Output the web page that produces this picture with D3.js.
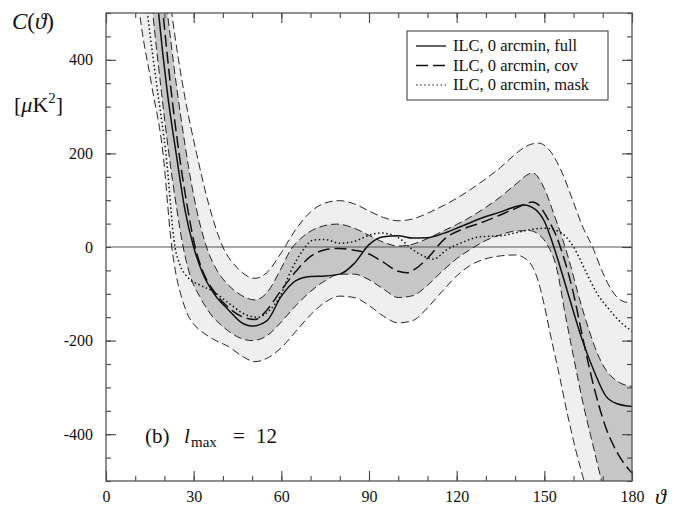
<!DOCTYPE html>
<html>
<head>
<meta charset="utf-8">
<script src="https://cdn.jsdelivr.net/npm/d3@7"></script>
<style>
  body { margin: 0; background: #fff; }
  text { font-family: "Liberation Serif", "DejaVu Serif", serif; fill: #111; }
</style>
</head>
<body>
<div class="vis-holder"></div>
<script>
// angle ticks and labels
var xMinorTicks = d3.range(0, 181, 10);
var xMajorTicks = [0, 30, 60, 90, 120, 150, 180];
var yMinorTicks = d3.range(-500, 501, 50);
var yMajorTicks = [-400, -200, 0, 200, 400];

// [theta, C(theta)], values in muK^2
var full = [[10,1150],[15,720],[18,500],[21,330],[24,200],[27,80],[30,0],[33,-55],[37,-100],[42,-135],[46,-160],[50,-169],[55,-158],[60,-105],[65,-72],[70,-63],[75,-62],[80,-58],[85,-35],[90,5],[95,22],[100,24],[105,19],[110,20],[115,28],[120,40],[125,53],[130,65],[135,75],[140,86],[143,90],[147,80],[150,55],[153,5],[156,-55],[159,-118],[163,-199],[167,-265],[171,-318],[175,-335],[180,-341]];

var cov = [[10,1250],[15,800],[17,660],[19.5,500],[22,350],[25,200],[28,80],[30.5,0],[33,-50],[37,-95],[42,-130],[47,-150],[51,-155],[55,-135],[60,-92],[65,-52],[70,-20],[75,-6],[80,-3],[85,-7],[90,-15],[95,-33],[100,-52],[103,-55],[106,-46],[110,-24],[116,18],[122,38],[128,51],[134,66],[140,82],[146,96],[148,90],[151,62],[154,25],[157,-30],[160,-100],[163,-190],[167,-300],[171,-385],[175,-440],[180,-483]];

var mask = [[8,1000],[11,700],[14.2,500],[17.5,340],[20.5,200],[23.6,0],[25.3,-38],[28,-65],[32,-81],[36.7,-95],[42,-120],[48,-145],[52,-150],[56,-135],[59.5,-106],[63,-55],[67.5,-6],[71,15],[75,16],[80,8],[85,12],[90,25],[94,30],[100,20],[105,-6],[109.7,-22],[112,-26],[116.6,-6],[122,10],[128,22],[135,24],[140,30],[145,37],[150,40],[155,33],[160,0],[164,-50],[168,-99],[172,-132],[176,-160],[180,-180]];

// 1 sigma and 2 sigma edges of the cov band
var outerTop = [[10,1300],[14,1000],[18,740],[22.5,500],[27,320],[31,200],[35,95],[40,0],[45,-45],[51,-67],[55,-55],[60,-12],[65,38],[70,75],[75,94],[80,99],[85,92],[90,77],[95,63],[100,56],[105,60],[110,72],[115,87],[120,104],[125,124],[130,146],[135,170],[140,198],[144,216],[148,222],[152,205],[156,160],[160,95],[163,45],[166.5,0],[170,-55],[173,-92],[176.5,-115],[180,-120]];

var darkTop = [[10,1100],[14,850],[17,690],[21,500],[24,350],[27,220],[30,110],[34.4,0],[38,-50],[42,-82],[46,-102],[51,-113],[55,-98],[60,-45],[63,-8],[67,20],[72,40],[79,49],[85,40],[90,25],[95,10],[100,2],[105,6],[110,18],[115,33],[120,48],[125,65],[130,85],[135,107],[140,133],[146,158],[150,125],[153,75],[156,22],[159,-40],[162,-110],[165,-172],[168,-225],[171,-262],[175,-287],[180,-298]];

var darkBottom = [[8,1000],[12,780],[16,500],[19,330],[21.5,200],[24,90],[26.4,0],[29,-65],[32,-105],[36,-145],[40,-170],[45,-192],[50,-200],[55,-190],[60,-160],[65,-125],[70,-95],[75,-72],[80,-58],[85,-58],[90,-70],[95,-90],[100,-108],[105,-104],[110,-82],[115,-52],[120,-25],[125,-4],[130,14],[135,26],[140,34],[145,35],[148,27],[151,5],[154,-40],[157.3,-149],[160,-235],[163,-327],[166.5,-420],[169.6,-500],[175,-620],[180,-720]];

var outerBottom = [[6,900],[9,650],[11.5,500],[15.5,350],[19.5,200],[22.5,0],[24,-60],[26,-110],[28,-145],[30,-165],[32,-177],[37,-198],[42,-213],[47,-235],[51,-245],[55,-238],[60,-215],[65,-180],[70,-145],[75,-118],[80,-105],[85,-108],[90,-125],[95,-148],[100,-162],[105,-157],[110,-130],[115,-95],[120,-62],[125,-38],[130,-25],[135,-19],[140,-17],[144,-27],[148,-75],[150,-125],[152,-185],[155,-270],[158,-360],[161,-440],[164.5,-520],[170,-640],[180,-800]];

var legendLabels = ["ILC, 0 arcmin, full", "ILC, 0 arcmin, cov", "ILC, 0 arcmin, mask"];

var width = 680;
var height = 512;
var margin = { top: 13, bottom: 31, left: 106, right: 48 };

var svg = d3.select(".vis-holder")
            .append("svg")
            .attr("width", width)
            .attr("height", height);

var xScale = d3.scaleLinear()
               .domain([0, 180])
               .range([margin.left, width - margin.right]);

var yScale = d3.scaleLinear()
               .domain([-500, 500])
               .range([height - margin.bottom, margin.top]);

var light = "#efefef";
var dark = "#c6c6c6";

svg.append("clipPath").attr("id", "plot-clip")
   .append("rect")
   .attr("x", xScale(0)).attr("y", yScale(500))
   .attr("width", xScale(180) - xScale(0))
   .attr("height", yScale(-500) - yScale(500));

var plot = svg.append("g").attr("clip-path", "url(#plot-clip)");

// bands: paint the area under each edge, top to bottom
var below = d3.area()
              .curve(d3.curveMonotoneX)
              .x(function(d) { return xScale(d[0]); })
              .y0(yScale(-3000))
              .y1(function(d) { return yScale(d[1]); });

plot.append("path").attr("d", below(outerTop)).attr("fill", light);
plot.append("path").attr("d", below(darkTop)).attr("fill", dark);
plot.append("path").attr("d", below(darkBottom)).attr("fill", light);
plot.append("path").attr("d", below(outerBottom)).attr("fill", "#fff");

// zero line
plot.append("line")
    .attr("x1", xScale(0)).attr("x2", xScale(180))
    .attr("y1", yScale(0)).attr("y2", yScale(0))
    .attr("stroke", "#555").attr("stroke-width", 1.1);

var line = d3.line()
             .curve(d3.curveMonotoneX)
             .x(function(d) { return xScale(d[0]); })
             .y(function(d) { return yScale(d[1]); });

[outerTop, darkTop, darkBottom, outerBottom].forEach(function(edge) {
  plot.append("path")
      .attr("d", line(edge))
      .attr("fill", "none")
      .attr("stroke", "#111")
      .attr("stroke-width", 0.9)
      .attr("stroke-dasharray", "8,4");
});

plot.append("path").attr("d", line(mask))
    .attr("fill", "none").attr("stroke", "#111")
    .attr("stroke-width", 1.5).attr("stroke-dasharray", "1.5,2.6");

plot.append("path").attr("d", line(cov))
    .attr("fill", "none").attr("stroke", "#111")
    .attr("stroke-width", 1.5).attr("stroke-dasharray", "12,5");

plot.append("path").attr("d", line(full))
    .attr("fill", "none").attr("stroke", "#111")
    .attr("stroke-width", 1.5);

// ticks pointing into the frame
function ticks(axis, values, size, labels) {
  return axis.tickValues(values)
             .tickSizeInner(-size).tickSizeOuter(0)
             .tickFormat(labels ? function(d) { return String(d); } : "");
}

var gx = svg.append("g").attr("transform", "translate(0," + yScale(-500) + ")");
gx.append("g").call(ticks(d3.axisBottom(xScale), xMinorTicks, 5, false));
gx.append("g").call(ticks(d3.axisBottom(xScale), xMajorTicks, 10, true).tickPadding(10));

var gxt = svg.append("g").attr("transform", "translate(0," + yScale(500) + ")");
gxt.append("g").call(ticks(d3.axisTop(xScale), xMinorTicks, 5, false));
gxt.append("g").call(ticks(d3.axisTop(xScale), xMajorTicks, 10, false));

var gy = svg.append("g").attr("transform", "translate(" + xScale(0) + ",0)");
gy.append("g").call(ticks(d3.axisLeft(yScale), yMinorTicks, 5, false));
gy.append("g").call(ticks(d3.axisLeft(yScale), yMajorTicks.filter(function(v) { return v !== 0; }), 10, true).tickPadding(13));
gy.append("g").call(ticks(d3.axisLeft(yScale), [0], 0, true).tickPadding(13));

var gyr = svg.append("g").attr("transform", "translate(" + xScale(180) + ",0)");
gyr.append("g").call(ticks(d3.axisRight(yScale), yMinorTicks, 5, false));
gyr.append("g").call(ticks(d3.axisRight(yScale), yMajorTicks, 10, false));

svg.selectAll(".domain").remove();
svg.selectAll(".tick line").attr("stroke", "#444").attr("stroke-width", 1.1);
svg.selectAll(".tick text")
   .style("font-family", "'Liberation Serif', serif")
   .style("font-size", "16px").attr("fill", "#111");

// frame
svg.append("rect")
   .attr("x", xScale(0)).attr("y", yScale(500))
   .attr("width", xScale(180) - xScale(0))
   .attr("height", yScale(-500) - yScale(500))
   .attr("fill", "none").attr("stroke", "#555").attr("stroke-width", 1.3);

// axis titles
var yTitle = svg.append("text").attr("x", 12).attr("y", 29).style("font-size", "23px");
yTitle.append("tspan").style("font-style", "italic").text("C");
yTitle.append("tspan").text("(");
yTitle.append("tspan").style("font-style", "italic").text("ϑ");
yTitle.append("tspan").text(")");

var unit = svg.append("text").attr("x", 14).attr("y", 112).style("font-size", "22px");
unit.append("tspan").text("[");
unit.append("tspan").style("font-style", "italic").text("μ");
unit.append("tspan").text("K");
unit.append("tspan").attr("dy", -9).style("font-size", "15px").text("2");
unit.append("tspan").attr("dy", 9).text("]");

svg.append("text").attr("x", 655).attr("y", 504)
   .style("font-size", "22px").style("font-style", "italic").text("ϑ");

// panel label, placed piece by piece like math spacing
var panelY = 443;
svg.append("text").attr("x", 145).attr("y", panelY).style("font-size", "21px").text("(b)");
svg.append("text").attr("x", 184).attr("y", panelY).style("font-size", "21px").style("font-style", "italic").text("l");
svg.append("text").attr("x", 191).attr("y", panelY + 4).style("font-size", "15px").text("max");
svg.append("text").attr("x", 233).attr("y", panelY).style("font-size", "21px").text("=");
svg.append("text").attr("x", 256).attr("y", panelY).style("font-size", "21px").text("12");

// legend
var legend = svg.append("g").attr("transform", "translate(407,31)");
legend.append("rect").attr("width", 201).attr("height", 69)
      .attr("fill", "#fff").attr("stroke", "#333").attr("stroke-width", 1);
var legendDash = [null, "12,5", "1.5,2.6"];
legendLabels.forEach(function(label, i) {
  var yy = 15 + i * 19.5;
  legend.append("line")
        .attr("x1", 9).attr("x2", 39).attr("y1", yy).attr("y2", yy)
        .attr("stroke", "#111").attr("stroke-width", i === 2 ? 1.2 : 1.3)
        .attr("stroke-dasharray", legendDash[i]);
  legend.append("text").attr("x", 46).attr("y", yy + 5)
        .style("font-size", "16.5px").text(label);
});
</script>
</body>
</html>
